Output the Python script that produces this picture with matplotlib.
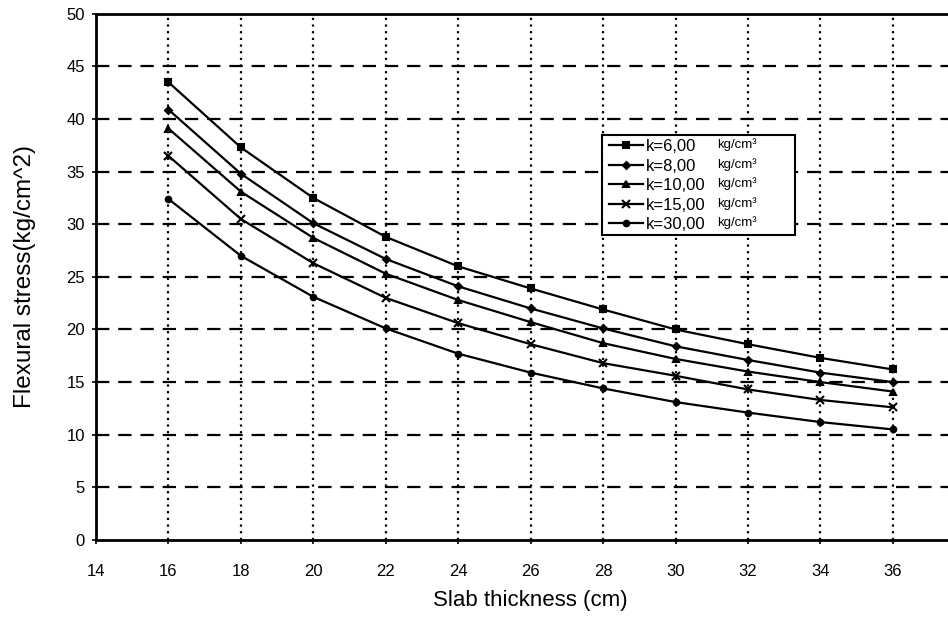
import numpy as np
from matplotlib import pyplot as plt
from matplotlib.patches import Rectangle

plt.rcParams['font.family'] = ['Liberation Sans', 'DejaVu Sans']

thickness = [16, 18, 20, 22, 24, 26, 28, 30, 32, 34, 36]
k6 = [43.5, 37.3, 32.5, 28.8, 26.0, 23.9, 21.9, 20.0, 18.6, 17.3, 16.2]
k8 = [40.9, 34.8, 30.1, 26.7, 24.1, 22.0, 20.1, 18.4, 17.1, 15.9, 15.0]
k10 = [39.1, 33.1, 28.7, 25.3, 22.8, 20.7, 18.7, 17.2, 16.0, 15.0, 14.1]
k15 = [36.5, 30.5, 26.3, 23.0, 20.6, 18.6, 16.8, 15.6, 14.3, 13.3, 12.6]
k30 = [32.4, 27.0, 23.1, 20.1, 17.7, 15.9, 14.4, 13.1, 12.1, 11.2, 10.5]
labels = ['k=6,00', 'k=8,00', 'k=10,00', 'k=15,00', 'k=30,00']
unit = 'kg/cm\u00b3'
x_ticks = [14, 16, 18, 20, 22, 24, 26, 28, 30, 32, 34, 36, 38]
y_ticks = [0, 5, 10, 15, 20, 25, 30, 35, 40, 45, 50]

W, H = 948, 622
fig = plt.figure(figsize=(W / 100, H / 100), dpi=100)
ax = fig.add_axes([0.1013, 0.132, 0.917, 0.8457])

# grid: dashed horizontals, dotted verticals
for y in y_ticks[1:-1]:
    ax.axhline(y, color='black', lw=1.6, ls=(0, (6, 4)), zorder=1)
for x in x_ticks[1:-1]:
    ax.axvline(x, color='black', lw=1.6, ls=(0, (1, 2)), zorder=1)

markers = ['s', 'D', '^', 'x', 'o']
sizes = [5, 3.5, 4.5, 6, 4]
series = [k6, k8, k10, k15, k30]
for vals, m, s, lab in zip(series, markers, sizes, labels):
    ax.plot(thickness, vals, color='black', lw=1.6, marker=m, ms=s,
            mew=1.5, label=lab, zorder=3)

ax.set_xlim(14, 38)
ax.set_ylim(0, 50)
ax.set_xticks(x_ticks)
ax.set_yticks(y_ticks)
ax.tick_params(labelsize=12, length=3, width=1.2, colors='black', pad=14)
ax.tick_params(axis='y', pad=5)
for side in ['left', 'bottom', 'top']:
    ax.spines[side].set_linewidth(2)
ax.spines['right'].set_visible(False)

ax.set_xlabel('Slab thickness (cm)', fontsize=16, labelpad=8)
ax.set_ylabel('Flexural stress(kg/cm^2)', fontsize=17.5, labelpad=22)

# legend box drawn by hand so the units fit inside
ax.add_patch(Rectangle((602 / W, 1 - 235 / H), 193 / W, 100 / H, transform=fig.transFigure,
                       facecolor='white', edgecolor='black', lw=1.5, zorder=4, clip_on=False))
leg = ax.legend(loc='upper left', bbox_to_anchor=(606 / W, 1 - 136 / H),
                bbox_transform=fig.transFigure, frameon=False, borderaxespad=0,
                fontsize=12, handlelength=2.0, handletextpad=0.2, labelspacing=0.27,
                borderpad=0.2)
leg.set_zorder(5)

# small raised unit next to each legend entry
fig.canvas.draw()
for t in leg.get_texts():
    bb = t.get_window_extent()
    fig.text(717 / W, (bb.y1 + 1) / H, unit, fontsize=9.5, va='top', ha='left', zorder=6)

plt.savefig('out.png', dpi=100)
